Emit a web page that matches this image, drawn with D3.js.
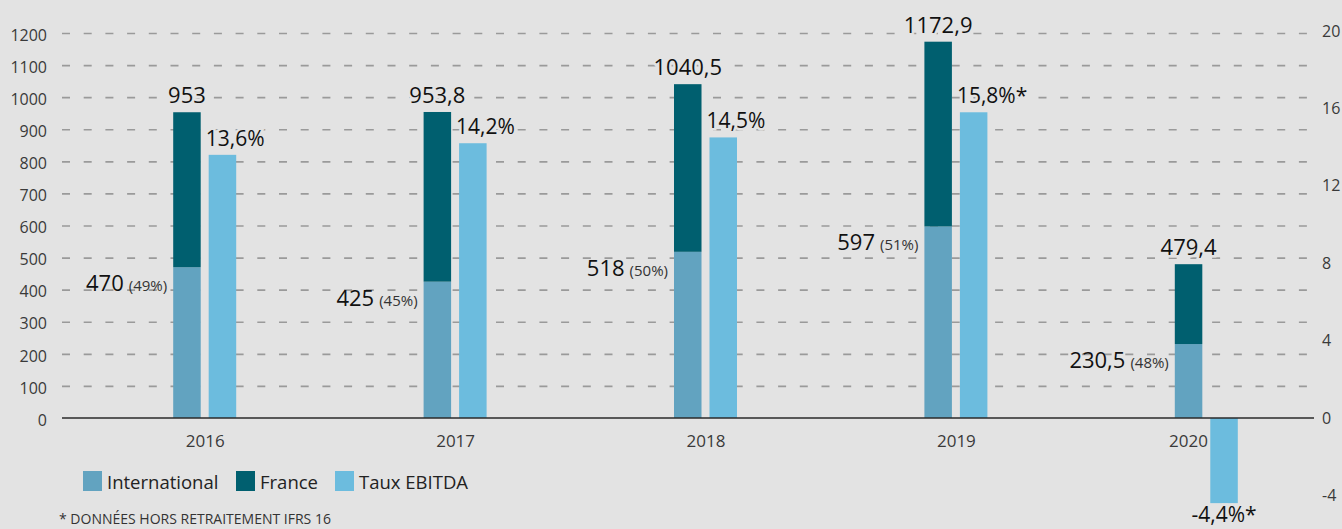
<!DOCTYPE html>
<html>
<head>
<meta charset="utf-8">
<script src="https://cdn.jsdelivr.net/npm/d3@7"></script>
<style>
body { margin: 0; background: #e3e3e3; }
svg { display: block; }
text { font-family: 'Open Sans', sans-serif; }
</style>
</head>
<body>
<svg></svg>
<script>
var years = ['2016', '2017', '2018', '2019', '2020'];
var international = [470, 425, 518, 597, 230.5];
var total = [953, 953.8, 1040.5, 1172.9, 479.4];
var intlShare = ['49%', '45%', '50%', '51%', '48%'];
var ebitda = [13.6, 14.2, 14.5, 15.8, -4.4];
var ebitdaNote = ['', '', '', '*', '*'];
var leftTicks = d3.range(0, 1201, 100);
var rightTicks = [-4, 0, 4, 8, 12, 16, 20];
var legendItems = ['International', 'France', 'Taux EBITDA'];
var footnote = '* DONNÉES HORS RETRAITEMENT IFRS 16';

var width = 1342;
var height = 529;
var bg = '#e3e3e3';
var colors = {International: '#62a3c0', France: '#005f6f', 'Taux EBITDA': '#6cbcde'};

var svg = d3.select('svg')
	.attr('width', width)
	.attr('height', height);

svg.append('rect').attr('width', width).attr('height', height).attr('fill', bg);

var plotLeft = 62;
var plotRight = 1308;

var x = d3.scaleBand()
	.domain(years)
	.range([80, 1332]);

var sub = d3.scaleBand()
	.domain(['stack', 'ebitda'])
	.range([-32, 31])
	.paddingInner(0.225);

var y = d3.scaleLinear()
	.domain([0, 1200])
	.range([418, 33]);

var yR = d3.scaleLinear()
	.domain([0, 20])
	.range([418, 31]);

var fmt = function(v) { return String(v).replace('.', ','); };

// left axis + dashed grid
var leftAxis = d3.axisLeft(y)
	.tickValues(leftTicks)
	.tickSizeInner(-(plotRight - plotLeft))
	.tickSizeOuter(0)
	.tickPadding(15)
	.tickFormat(d3.format('d'));

var gl = svg.append('g')
	.attr('transform', `translate(${plotLeft},0)`)
	.call(leftAxis);
gl.select('.domain').remove();
gl.selectAll('.tick line')
	.attr('stroke', '#9a9a9a')
	.attr('stroke-width', 1.7)
	.attr('stroke-dasharray', '8,13.7')
	.filter(function(d) { return d === 0; }).remove();
gl.selectAll('.tick text')
	.attr('fill', '#3a3a3a')
	.attr('dy', '0.45em')
	.style('font-size', '16px');

// right axis
var rightAxis = d3.axisRight(yR)
	.tickValues(rightTicks)
	.tickSize(0)
	.tickPadding(8)
	.tickFormat(function(d) { return String(d); });

var gr = svg.append('g')
	.attr('transform', 'translate(1314,0)')
	.call(rightAxis);
gr.select('.domain').remove();
gr.selectAll('.tick text')
	.attr('fill', '#3a3a3a')
	.style('font-size', '16px');

var data = years.map(function(yr, i) {
	return {
		year: yr,
		intl: international[i],
		total: total[i],
		share: intlShare[i],
		ebitda: ebitda[i],
		note: ebitdaNote[i]
	};
});

var groups = svg.selectAll('.year')
	.data(data)
	.enter().append('g')
	.attr('class', 'year')
	.attr('transform', function(d) { return `translate(${x(d.year) + x.bandwidth() / 2},0)`; });

// international
groups.append('rect')
	.attr('x', sub('stack'))
	.attr('width', sub.bandwidth())
	.attr('y', function(d) { return y(d.intl); })
	.attr('height', function(d) { return y(0) - y(d.intl); })
	.attr('fill', colors.International);

// france
groups.append('rect')
	.attr('x', sub('stack'))
	.attr('width', sub.bandwidth())
	.attr('y', function(d) { return y(d.total); })
	.attr('height', function(d) { return y(d.intl) - y(d.total); })
	.attr('fill', colors.France);

// ebitda
groups.append('rect')
	.attr('x', sub('ebitda'))
	.attr('width', sub.bandwidth())
	.attr('y', function(d) { return yR(Math.max(0, d.ebitda)); })
	.attr('height', function(d) { return Math.abs(yR(d.ebitda) - yR(0)); })
	.attr('fill', colors['Taux EBITDA']);

// zero line
svg.append('line')
	.attr('x1', plotLeft).attr('x2', 1314)
	.attr('y1', y(0)).attr('y2', y(0))
	.attr('stroke', '#2a2a2a')
	.attr('stroke-width', 1.5);

// total labels
groups.append('text')
	.attr('x', sub('stack') + sub.bandwidth() / 2)
	.attr('y', function(d) { return y(d.total) - 9; })
	.attr('text-anchor', 'middle')
	.attr('fill', '#111')
	.attr('stroke', bg).attr('stroke-width', 5).attr('paint-order', 'stroke')
	.style('font-size', '22px')
	.style('font-weight', 500)
	.text(function(d) { return fmt(d.total); });

// international labels
var il = groups.append('text')
	.attr('x', sub('stack') - 6)
	.attr('y', function(d) { return y(d.intl) + 24; })
	.attr('text-anchor', 'end')
	.attr('fill', '#111');
il.append('tspan')
	.style('font-size', '22px')
	.style('font-weight', 500)
	.text(function(d) { return fmt(d.intl); });
il.append('tspan')
	.attr('dx', 5)
	.attr('fill', '#333')
	.style('font-size', '15px')
	.text(function(d) { return '(' + d.share + ')'; });

// ebitda labels
groups.append('text')
	.attr('x', function(d) { return d.ebitda >= 0 ? sub('ebitda') - 3 : sub('ebitda') + sub.bandwidth() / 2; })
	.attr('y', function(d) { return d.ebitda >= 0 ? yR(d.ebitda) - 9 : height - 7; })
	.attr('text-anchor', function(d) { return d.ebitda >= 0 ? 'start' : 'middle'; })
	.attr('fill', '#111')
	.attr('stroke', bg).attr('stroke-width', 5).attr('paint-order', 'stroke')
	.style('font-size', '21px')
	.style('font-weight', 500)
	.text(function(d) { return fmt(d.ebitda) + '%' + d.note; });

// year labels (centred on the stacked bar when the ebitda bar hangs below)
groups.append('text')
	.attr('x', function(d) { return d.ebitda >= 0 ? 0 : sub('stack') + sub.bandwidth() / 2; })
	.attr('y', 447)
	.attr('text-anchor', 'middle')
	.attr('fill', '#3a3a3a')
	.style('font-size', '17px')
	.text(function(d) { return d.year; });

// legend
var legendX = [83, 236, 335];
var lg = svg.selectAll('.legend')
	.data(legendItems)
	.enter().append('g')
	.attr('class', 'legend')
	.attr('transform', function(d, i) { return `translate(${legendX[i]},471)`; });
lg.append('rect')
	.attr('width', 19)
	.attr('height', 20)
	.attr('fill', function(d) { return colors[d]; });
lg.append('text')
	.attr('x', 24)
	.attr('y', 18)
	.attr('fill', '#222')
	.style('font-size', '18.5px')
	.text(function(d) { return d; });

svg.append('text')
	.attr('x', 59)
	.attr('y', 524)
	.attr('fill', '#333')
	.style('font-size', '14px')
	.text(footnote);
</script>
</body>
</html>
